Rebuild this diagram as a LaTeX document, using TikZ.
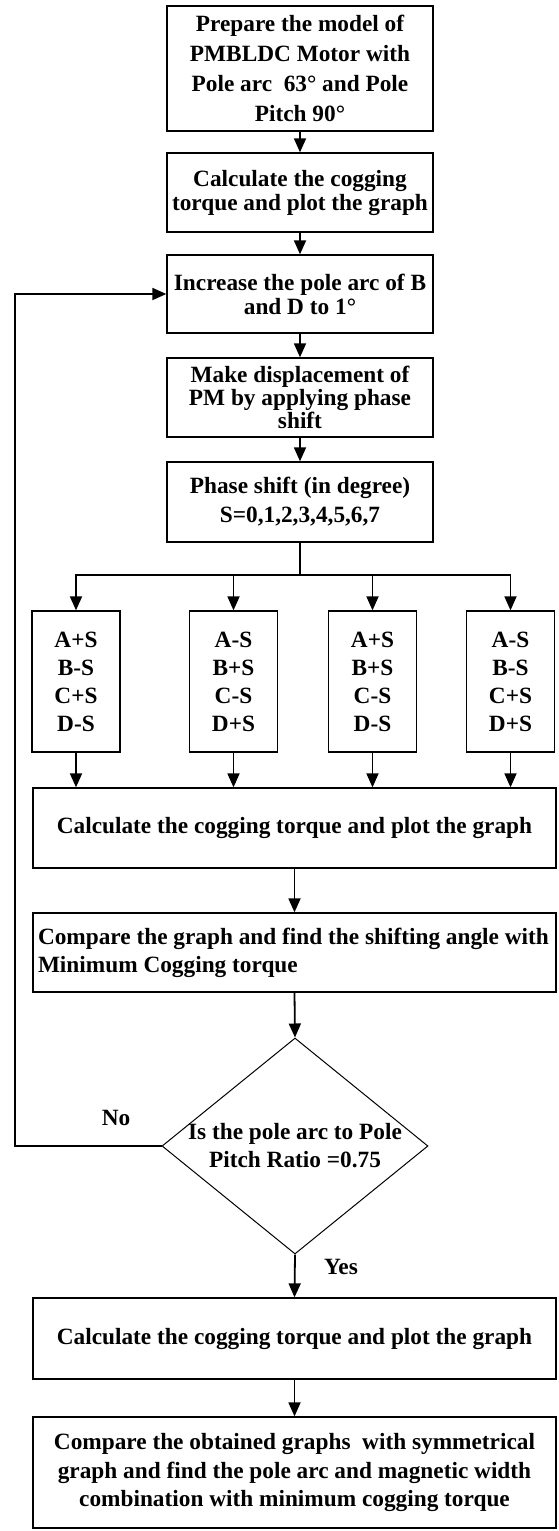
\documentclass[tikz,border=0pt]{standalone}
\usepackage{fontspec}
\setmainfont{Liberation Serif}
\usetikzlibrary{arrows.meta,shapes.geometric}
\newcommand\myfs[1]{\fontsize{23.3pt}{#1pt}\selectfont\bfseries}
\newcommand\lline[1]{\makebox[513pt][l]{#1}}
\begin{document}
\begin{tikzpicture}[x=1pt,y=-1pt,
  box/.style={draw,line width=1.3pt,inner sep=0pt,align=center},
  conn/.style={line width=1.8pt},
  arr/.style={conn,-{Triangle[length=14pt,width=12pt]}},
  lbl/.style={font=\myfs{28},inner sep=0pt}]
\useasboundingbox (0,0) rectangle (558,1531);
% top column
\node[box,minimum width=266pt,minimum height=125pt,font=\myfs{30}] (n1) at (300,68.5)
  {Prepare the model of\\PMBLDC Motor with\\Pole arc~~63° and Pole\\Pitch 90°};
\node[box,minimum width=266pt,minimum height=79pt,font=\myfs{24}] (n2) at (300,192.5)
  {Calculate the cogging\\torque and plot the graph};
\node[box,minimum width=266pt,minimum height=78pt,font=\myfs{24}] (n3) at (300,294)
  {Increase the pole arc of B\\and D to 1°};
\node[box,minimum width=266pt,minimum height=79pt,font=\myfs{23}] (n4) at (300,397.5)
  {Make displacement of\\PM by applying phase\\shift};
\node[box,minimum width=266pt,minimum height=80pt,font=\myfs{29}] (n5) at (300,502)
  {Phase shift (in degree)\\S=0,1,2,3,4,5,6,7};
% small boxes
\node[box,minimum width=88pt,minimum height=141pt,font=\myfs{28}] (s1) at (76,681.5)
  {A+S\\B-S\\C+S\\D-S};
\node[box,minimum width=88pt,minimum height=141pt,font=\myfs{28}] (s2) at (233.5,681.5)
  {A-S\\B+S\\C-S\\D+S};
\node[box,minimum width=88pt,minimum height=141pt,font=\myfs{28}] (s3) at (372.5,681.5)
  {A+S\\B+S\\C-S\\D-S};
\node[box,minimum width=88pt,minimum height=141pt,font=\myfs{28}] (s4) at (510.5,681.5)
  {A-S\\B-S\\C+S\\D+S};
% wide boxes
\node[box,minimum width=523pt,minimum height=80pt,font=\myfs{28}] (b1) at (294.5,828)
  {Calculate the cogging torque and plot the graph};
\node[box,minimum width=523pt,minimum height=79pt,font=\myfs{28}] (b2) at (294.5,952.5)
  {\lline{Compare the graph and find the shifting angle with}\\\lline{Minimum Cogging torque}};
\node[diamond,draw,line width=1pt,minimum width=266pt,minimum height=216pt,inner sep=0pt,
  label={[font=\myfs{28},align=center]center:Is the pole arc to Pole\\Pitch Ratio =0.75}] (d) at (295,1146) {};
\node[box,minimum width=523pt,minimum height=81pt,font=\myfs{28}] (b3) at (294.5,1338.5)
  {Calculate the cogging torque and plot the graph};
\node[box,minimum width=523pt,minimum height=111pt,font=\myfs{28.5}] (b4) at (294.5,1472.5)
  {Compare the obtained graphs~ with symmetrical\\graph and find the pole arc and magnetic width\\combination with minimum cogging torque};
% labels
\node[lbl] (no) at (116,1118) {No};
\node[lbl] (yes) at (341,1267) {Yes};
% connectors
\draw[arr] (n1.south) -- (n2.north);
\draw[arr] (n2.south) -- (n3.north);
\draw[arr] (n3.south) -- (n4.north);
\draw[arr] (n4.south) -- (n5.north);
\coordinate (br) at (300,575);
\draw[conn] (n5.south) -- (br);
\draw[arr] (br) -| (s1.north);
\draw[arr] (br) -| (s2.north);
\draw[arr] (br) -| (s3.north);
\draw[arr] (br) -| (s4.north);
\draw[arr] (s1.south) -- (s1.south |- b1.north);
\draw[arr] (s2.south) -- (s2.south |- b1.north);
\draw[arr] (s3.south) -- (s3.south |- b1.north);
\draw[arr] (s4.south) -- (s4.south |- b1.north);
\draw[arr] (b1.south) -- (b2.north);
\draw[arr] (b2.south) -- (d.north);
\coordinate (lp) at (15,1146);
\draw[arr] (d.west) -- (lp) |- (n3.west);
\draw[arr] (d.south) -- (b3.north);
\draw[arr] (b3.south) -- (b4.north);
\end{tikzpicture}
\end{document}
